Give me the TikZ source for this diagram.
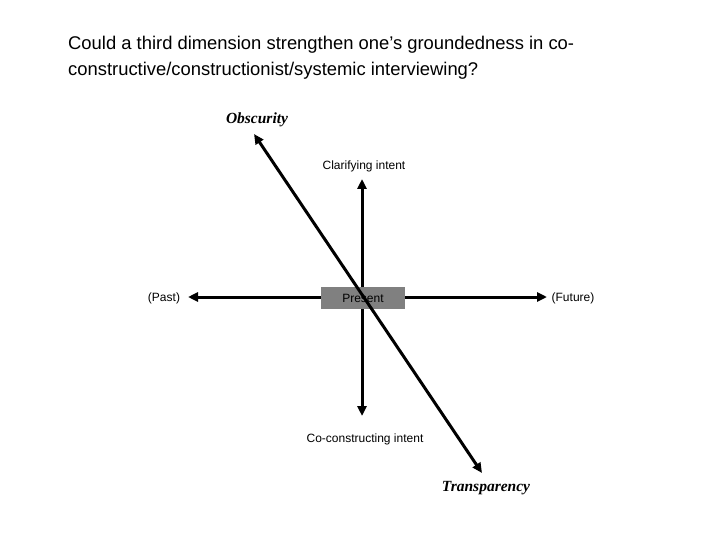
\documentclass[tikz,border=0pt]{standalone}
\usepackage{fontspec}
\setmainfont{Liberation Sans}
\newfontfamily\serifit{Liberation Serif}
\usetikzlibrary{arrows.meta}
\begin{document}
\begin{tikzpicture}[x=1pt,y=-1pt,
  lbl/.style={font=\fontsize{12}{14}\selectfont, inner sep=0pt},
  pole/.style={font=\serifit\bfseries\itshape\fontsize{15.5}{17}\selectfont, inner sep=0pt},
  axis/.style={line width=3pt, -{Triangle[length=10pt,width=9pt]}}]
\useasboundingbox (0,0) rectangle (720,540);
\node[anchor=west, align=left, font=\fontsize{18.4}{26}\selectfont, inner sep=0pt] (title) at (68,58)
  {Could a third dimension strengthen one’s groundedness in co-\\constructive/constructionist/systemic interviewing?};
\coordinate (c) at (362,297);
\coordinate (up) at (362,179);
\coordinate (down) at (362,416);
\coordinate (left) at (188,297);
\coordinate (right) at (547,297);
\coordinate (tl) at (254,134);
\coordinate (br) at (482,473);
\draw[axis] (c) -- (up);
\draw[axis] (c) -- (down);
\draw[axis] (c) -- (left);
\draw[axis] (c) -- (right);
\node[fill=black!50, minimum width=84pt, minimum height=22pt, inner sep=0pt, lbl] (present) at (363,298) {Present};
\draw[line width=3pt, {Triangle[length=10pt,width=9pt]}-{Triangle[length=10pt,width=9pt]}] (tl) -- (br);
\node[pole] (obs) at (257,120) {Obscurity};
\node[pole] (tra) at (486,488) {Transparency};
\node[lbl] (clar) at (364,166) {Clarifying intent};
\node[lbl] (coc) at (365,439) {Co-constructing intent};
\node[lbl] (past) at (164,298) {(Past)};
\node[lbl] (fut) at (573,298) {(Future)};
\end{tikzpicture}
\end{document}
